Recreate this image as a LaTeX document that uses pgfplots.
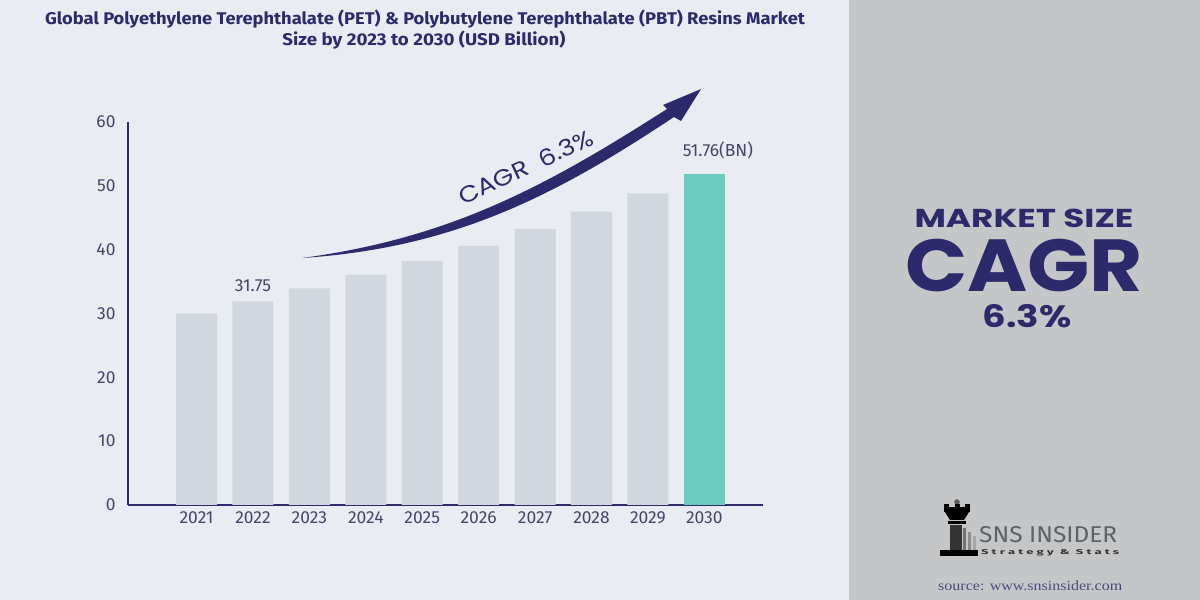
\documentclass[border=0pt]{standalone}
\usepackage{pgfplots}
\pgfplotsset{compat=1.18}
\usepackage{fontspec}
\setmainfont{Fira Sans}
\newfontfamily\pop{Poppins}
\newfontfamily\srcfont{Liberation Serif}
\definecolor{bgL}{HTML}{E9ECF2}
\definecolor{bgR}{HTML}{C5C6C8}
\definecolor{navy}{HTML}{2C2A6B}
\definecolor{barg}{HTML}{D0D7DE}
\definecolor{tealbar}{HTML}{6CCAC1}
\definecolor{ticktxt}{HTML}{45466A}
\definecolor{logogray}{HTML}{606163}
\begin{document}
\begin{tikzpicture}
\useasboundingbox (0,0) rectangle (1200bp,600bp);
\fill[bgL] (0,0) rectangle (850bp,600bp);
\fill[bgR] (849bp,0) rectangle (1200bp,600bp);

\begin{axis}[
  at={(128bp,95bp)}, anchor=south west, scale only axis,
  width=635bp, height=383bp,
  xmin=-1.215, xmax=10.04, ymin=0, ymax=60,
  axis x line*=bottom, axis y line*=left,
  axis line style={navy, line width=1.6bp},
  xtick={0,1,2,3,4,5,6,7,8,9},
  xticklabels={2021,2022,2023,2024,2025,2026,2027,2028,2029,2030},
  ytick={0,10,20,30,40,50,60},
  major tick length=0pt,
  tick label style={font=\fontsize{17.5}{19}\selectfont, text=ticktxt},
  /pgf/number format/assume math mode=true,
  yticklabel style={xshift=-9bp},
  xticklabel style={yshift=-3bp},
  ybar, bar width=0.727, bar shift=0pt,
  clip=false,
]
\addplot[fill=barg, draw=none] coordinates {(0,30.0) (1,31.9) (2,33.95) (3,36.1) (4,38.2) (5,40.6) (6,43.2) (7,45.95) (8,48.8)};
\addplot[fill=tealbar, draw=none] coordinates {(9,51.86)};
\node[anchor=base, yshift=10bp, text=ticktxt, font=\fontsize{17.5}{19}\selectfont] at (axis cs:1,31.9) {31.75};
\node[anchor=base west, inner sep=0pt, xshift=-1bp, yshift=17bp, text=ticktxt, font=\fontsize{17.5}{19}\selectfont] at (axis cs:8.636,51.86) {51.76(BN)};
\end{axis}

% title
\node[anchor=base, text=navy, inner sep=0pt] at (425bp,575bp)
  {\resizebox{760bp}{\height}{\fontsize{17}{20}\selectfont\bfseries Global Polyethylene Terephthalate (PET) \& Polybutylene Terephthalate (PBT) Resins Market}};
\node[anchor=base, text=navy, inner sep=0pt] at (424bp,554bp)
  {\resizebox{283bp}{\height}{\fontsize{17}{20}\selectfont\bfseries Size by 2023 to 2030 (USD Billion)}};

% arrow
\begin{scope}[x=1bp, y=-1bp, shift={(0,-600)}]
\fill[navy] (302,258) .. controls (452,238) and (548,185) .. (667,109) -- (663,105) -- (701,89) -- (681,121) -- (674,117) .. controls (552,198) and (452,248) .. (302,258) -- cycle;
% rook logo
\fill[gray!70!black] (957,502) circle (2.8);
\fill[black] (944,504) rectangle (949,508);
\fill[black] (954.5,504) rectangle (959.5,508);
\fill[black] (965,504) rectangle (970,508);
\fill[black] (944,507.5) rectangle (970,512);
\fill[black] (945,512) -- (969,512) -- (964,520) -- (950,520) -- cycle;
\fill[black] (948,521) rectangle (966,524.5);
\fill[black!80] (950,525) rectangle (962,550);
\fill[black!55] (963,528) rectangle (966,550);
\fill[black!45] (968,532) rectangle (971,550);
\fill[black!35] (973,536) rectangle (975.5,550);
\fill[black] (940,550) rectangle (978,556);
\end{scope}
\node[rotate=25, text=navy, inner sep=0pt] at (526bp,433bp)
  {\resizebox{146bp}{\height}{\pop\fontsize{23}{26}\selectfont CAGR\ \ 6.3\%}};

% right panel
\node[anchor=base, text=navy, inner sep=0pt] at (1024bp,372bp)
  {\resizebox{219bp}{\height}{\pop\bfseries\fontsize{26}{30}\selectfont MARKET SIZE}};
\node[anchor=base, text=navy, inner sep=0pt] at (1024bp,308bp)
  {\resizebox{238bp}{\height}{\pop\bfseries\fontsize{74}{80}\selectfont CAGR}};
\node[anchor=base, text=navy, inner sep=0pt] at (1027bp,272bp)
  {\resizebox{89bp}{\height}{\pop\bfseries\fontsize{31}{34}\selectfont 6.3\%}};

% logo text
\node[anchor=base west, text=logogray, inner sep=0pt] at (979bp,57bp)
  {\resizebox{138bp}{\height}{\fontsize{23}{25}\selectfont SNS INSIDER}};
\node[anchor=base west, text=black!80, inner sep=0pt] at (981bp,45bp)
  {\resizebox{138bp}{\height}{\fontsize{7}{8}\selectfont\bfseries S t r a t e g y \ \& \ S t a t s}};
\node[anchor=base west, text=navy!85, inner sep=0pt] at (938bp,10bp)
  {\resizebox{184bp}{\height}{\srcfont\fontsize{14}{16}\selectfont source: www.snsinsider.com}};
\end{tikzpicture}
\end{document}
